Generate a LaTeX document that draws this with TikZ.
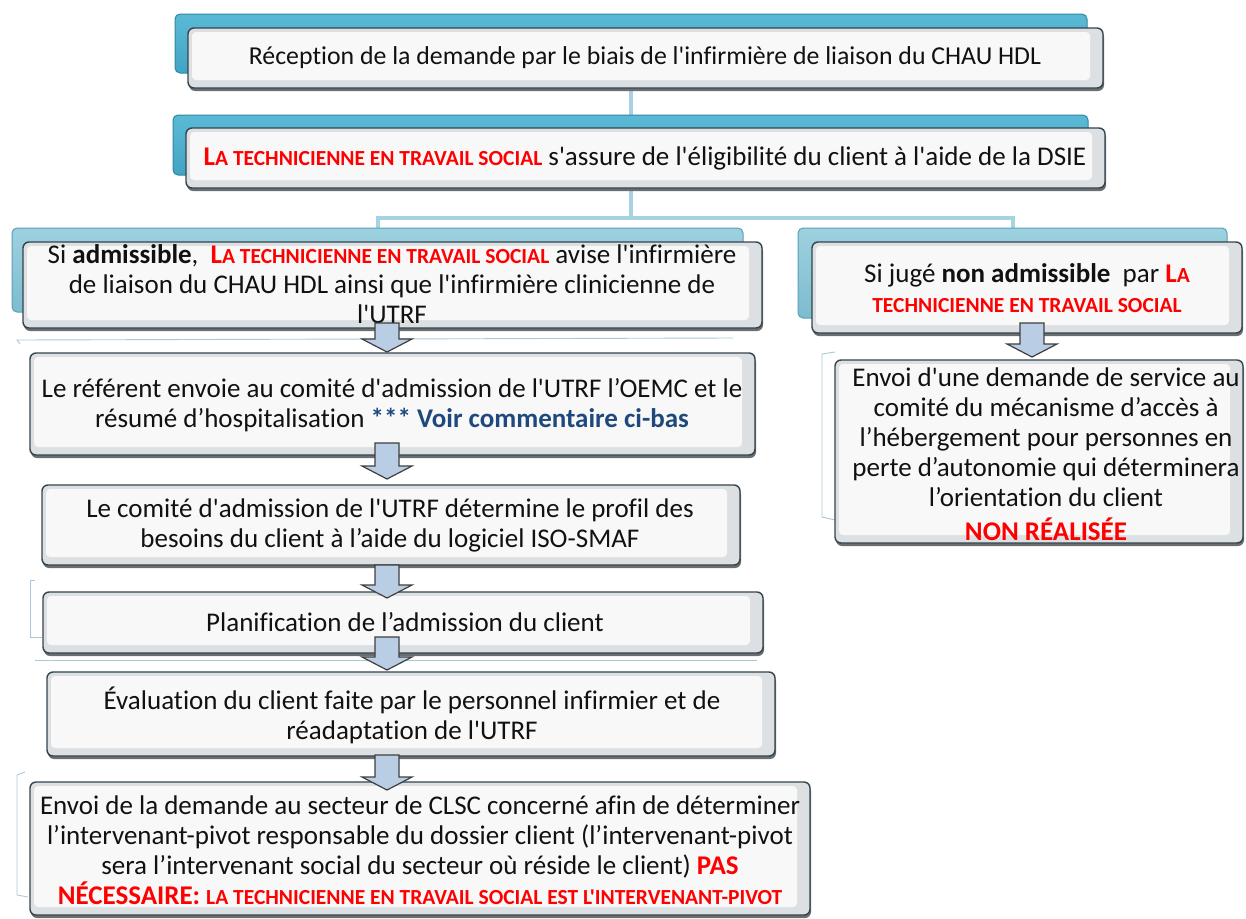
\documentclass[tikz,border=0pt]{standalone}
\usepackage{fontspec}
\setmainfont{Carlito}[Ligatures={TeXOff,NoCommon}]
\usetikzlibrary{fit,calc}
\pgfdeclarelayer{bg}
\pgfsetlayers{bg,main}
\definecolor{tabAt}{HTML}{5ABAD6}
\definecolor{tabAb}{HTML}{43A3C3}
\definecolor{tabAl}{HTML}{2F88A6}
\definecolor{tabBt}{HTML}{9DD1E0}
\definecolor{tabBb}{HTML}{7DBCCF}
\definecolor{tabBl}{HTML}{5C9FB4}
\definecolor{connc}{HTML}{A6D3E3}
\definecolor{arrfill}{HTML}{B9CDE5}
\definecolor{arrline}{HTML}{3F3F3F}
\definecolor{boxline}{HTML}{34434C}
\definecolor{boxbev}{HTML}{DDE0E2}
\definecolor{boxin}{HTML}{F8F8F8}
\definecolor{shadowc}{HTML}{6A6E70}
\definecolor{redc}{HTML}{FF0000}
\definecolor{bluec}{HTML}{1F497D}
\definecolor{txtc}{HTML}{111111}
\definecolor{faint}{HTML}{A9C9D4}
\tikzset{
  conn/.style={draw=connc, line width=4pt},
  faintline/.style={draw=faint, line width=0.9pt},
  tabA/.style={draw=tabAl, line width=1pt, rounded corners=5pt, top color=tabAt, bottom color=tabAb},
  tabB/.style={draw=tabBl, line width=1pt, rounded corners=5pt, top color=tabBt, bottom color=tabBb},
  boxframe/.style={draw=boxline, line width=1.4pt, rounded corners=6pt, fill=boxbev},
  txt/.style={align=center, text=txtc, font=\fontsize{27}{30}\selectfont, inner sep=0pt},
  barrow/.style={fill=arrfill, draw=arrline, line width=1.2pt, line join=miter},
}
\newcommand\mytab[6]{%
  \draw[#6] (#2,#3) rectangle (#4,#5);
  \node[fit={(#2,#3)(#4,#5)}, inner sep=0pt] (#1) {};
}
\newcommand\mybox[5]{%
  \fill[shadowc, rounded corners=6pt] (#2+1,#3+3) rectangle (#4+1,#5+3);
  \draw[boxframe] (#2,#3) rectangle (#4,#5);
  \fill[boxin, rounded corners=4pt] (#2+4,#3+4) rectangle (#4-13,#5-8);
  \node[fit={(#2,#3)(#4,#5)}, inner sep=0pt] (#1) {};
}
\newcommand\blockarrow[4]{% name x ytop ytip
  \draw[barrow] (#2-12,#3) -- (#2+12,#3) -- (#2+12,#4-13) -- (#2+25,#4-13)
     -- (#2,#4) -- (#2-25,#4-13) -- (#2-12,#4-13) -- cycle;
  \coordinate (#1) at (#2,#4);
}
\newcommand\tss[2]{{\bfseries\color{redc}#1{\fontsize{21.5}{30}\selectfont #2}}}
\begin{document}
\begin{tikzpicture}[x=1pt,y=-1pt]
\useasboundingbox (0,0) rectangle (1246,918);
% faint artefact lines
\draw[faintline] (20,344) -- (17,340) -- (733,338);
\draw[faintline] (35,580) -- (30,580) -- (30,637) -- (42,637);
\draw[faintline] (35,660) -- (757,660);
\draw[faintline] (25,772) -- (17,775) -- (17,895) -- (28,897);
\draw[faintline] (835,352) -- (822,354) -- (822,517) -- (835,520);
\coordinate (split) at (631,218);
% tabs
\mytab{t1}{175}{14}{1087}{73}{tabA}
\mytab{t2}{173}{115}{1088}{175}{tabA}
\mytab{t3}{12}{228}{743}{312}{tabB}
\mytab{t4}{798}{228}{1227}{318}{tabB}
% boxes
\mybox{b1}{188}{28}{1103}{88}
\mybox{b2}{186}{128}{1105}{188}
\mybox{b3}{23}{242}{762}{328}
\mybox{b4}{812}{242}{1242}{333}
\mybox{b5}{30}{353}{755}{455}
\mybox{b6}{42}{485}{740}{565}
\mybox{b7}{43}{592}{763}{653}
\mybox{b8}{47}{672}{775}{756}
\mybox{b9}{30}{782}{810}{915}
\mybox{b10}{835}{360}{1243}{543}
% connectors (behind)
\begin{pgfonlayer}{bg}
\draw[conn] ([xshift=-14.5pt]b1.south) -- ([xshift=-14.5pt]t2.north -| b1.south);
\draw[conn] ([xshift=-14.5pt]b2.south) -- (split);
\draw[conn] (t3.north) -- (t3.north |- split) -- (t4.north |- split) -- (t4.north);
\end{pgfonlayer}
% texts
\node[txt, font=\fontsize{25.8}{30}\selectfont] (x1) at (645,58) {Réception de la demande par le biais de l'infirmière de liaison du CHAU HDL};
\node[txt] (x2) at (645,158) {\tss{L}{A TECHNICIENNE EN TRAVAIL SOCIAL} s'assure de l'éligibilité du client à l'aide de la DSIE};
\node[txt] (x3) at (392,284) {Si \textbf{admissible}, \ \tss{L}{A TECHNICIENNE EN TRAVAIL SOCIAL} avise l'infirmière\\de liaison du CHAU HDL ainsi que l'infirmière clinicienne de\\l'UTRF};
\node[txt] (x4) at (1027,288) {Si jugé \textbf{non admissible} \ par \tss{L}{A}\\\tss{}{TECHNICIENNE EN TRAVAIL SOCIAL}};
\node[txt] (x5) at (392,405) {Le référent envoie au comité d'admission de l'UTRF l’OEMC et le\\résumé d’hospitalisation {\bfseries\color{bluec}*** Voir commentaire ci-bas}};
\node[txt] (x6) at (390,525) {Le comité d'admission de l'UTRF détermine le profil des\\besoins du client à l’aide du logiciel ISO-SMAF};
\node[txt] (x7) at (405,622) {Planification de l’admission du client};
\node[txt] (x8) at (412,715) {Évaluation du client faite par le personnel infirmier et de\\réadaptation de l'UTRF};
\node[txt] (x9) at (420,850) {Envoi de la demande au secteur de CLSC concerné afin de déterminer\\l’intervenant-pivot responsable du dossier client (l’intervenant-pivot\\sera l’intervenant social du secteur où réside le client) {\bfseries\color{redc}PAS}\\{\bfseries\color{redc}NÉCESSAIRE: }\tss{}{LA TECHNICIENNE EN TRAVAIL SOCIAL EST L'INTERVENANT-PIVOT}};
\node[txt] (x10) at (1046,454) {Envoi d'une demande de service au\\comité du mécanisme d’accès à\\l’hébergement pour personnes en\\perte d’autonomie qui déterminera\\l’orientation du client\\[4pt]{\bfseries\color{redc}NON RÉALISÉE}};
% block arrows
\blockarrow{a1}{387}{323}{352}
\blockarrow{a2}{387}{443}{479}
\blockarrow{a3}{387}{565}{598}
\blockarrow{a4}{387}{637}{670}
\blockarrow{a5}{387}{755}{790}
\blockarrow{a6}{1032}{323}{357}
\end{tikzpicture}
\end{document}
